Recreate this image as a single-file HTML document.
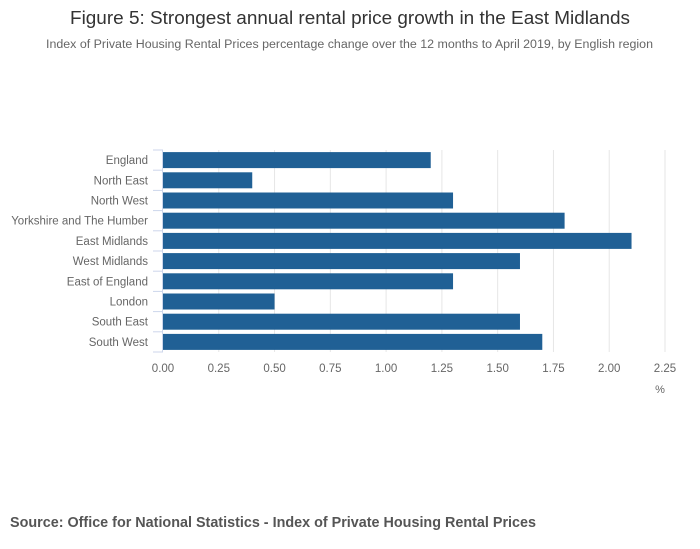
<!DOCTYPE html>
<html><head><meta charset="utf-8"><style>
body{margin:0;background:#fff;font-family:"Liberation Sans","DejaVu Sans",sans-serif;}
#wrap{position:relative;width:700px;height:549px;overflow:hidden;}
</style></head><body>
<div id="wrap">
<svg id="svg" width="700" height="549">
<text x="70" y="24" textLength="560" lengthAdjust="spacingAndGlyphs" font-size="18.5" fill="#333">Figure 5: Strongest annual rental price growth in the East Midlands</text>
<text x="46" y="48" textLength="607" lengthAdjust="spacingAndGlyphs" font-size="11.5" fill="#666">Index of Private Housing Rental Prices percentage change over the 12 months to April 2019, by English region</text>
<text x="10" y="527" textLength="526" lengthAdjust="spacingAndGlyphs" font-size="14.5" font-weight="bold" fill="#555">Source: Office for National Statistics - Index of Private Housing Rental Prices</text>
<text x="660" y="393" text-anchor="middle" font-size="11" fill="#666">%</text>
<g id="grid"></g><g id="bars"></g><g id="axes"></g>
</svg>
</div>
<script>
const categories=["England","North East","North West","Yorkshire and The Humber","East Midlands","West Midlands","East of England","London","South East","South West"];
const values=[1.2,0.4,1.3,1.8,2.1,1.6,1.3,0.5,1.6,1.7];
const ticks=[0,0.25,0.5,0.75,1,1.25,1.5,1.75,2,2.25];
const NS="http://www.w3.org/2000/svg";
const x0=163,x1=665,yTop=150,yBot=352,maxV=2.25;
const xs=v=>x0+(x1-x0)*v/maxV;
const band=(yBot-yTop)/categories.length;
function mk(t,a,p){const e=document.createElementNS(NS,t);for(const k in a)e.setAttribute(k,a[k]);document.getElementById(p).appendChild(e);return e;}
ticks.forEach((t,i)=>{
 if(i>0){const g=mk('line',{x1:xs(t),x2:xs(t),y1:yTop,y2:yBot,stroke:'#e6e6e6','stroke-width':1},'grid');
 
 }
 const l=mk('text',{x:xs(t),y:372,'text-anchor':'middle','font-size':11.5,fill:'#666'},'axes');
 l.textContent=t.toFixed(2);
 
 
});
categories.forEach((c,i)=>{
 const yc=yTop+band*(i+0.5);
 const r=mk('rect',{x:x0,y:yc-8,width:xs(values[i])-x0,height:16,fill:'#206095'},'bars');
 
 
 const l=mk('text',{x:148,y:yc+4,'text-anchor':'end','font-size':11.5,fill:'#666'},'axes');
 l.textContent=c;
 
 
});
for(let i=0;i<=categories.length;i++){
 const y=yTop+band*i;
 const t=mk('line',{x1:153,x2:x0,y1:y,y2:y,stroke:'#ccd6eb'},'axes');
 
 
}
const ax=mk('line',{x1:x0-0.5,x2:x0-0.5,y1:yTop,y2:yBot,stroke:'#ccd6eb'},'axes');


</script>
</body></html>
